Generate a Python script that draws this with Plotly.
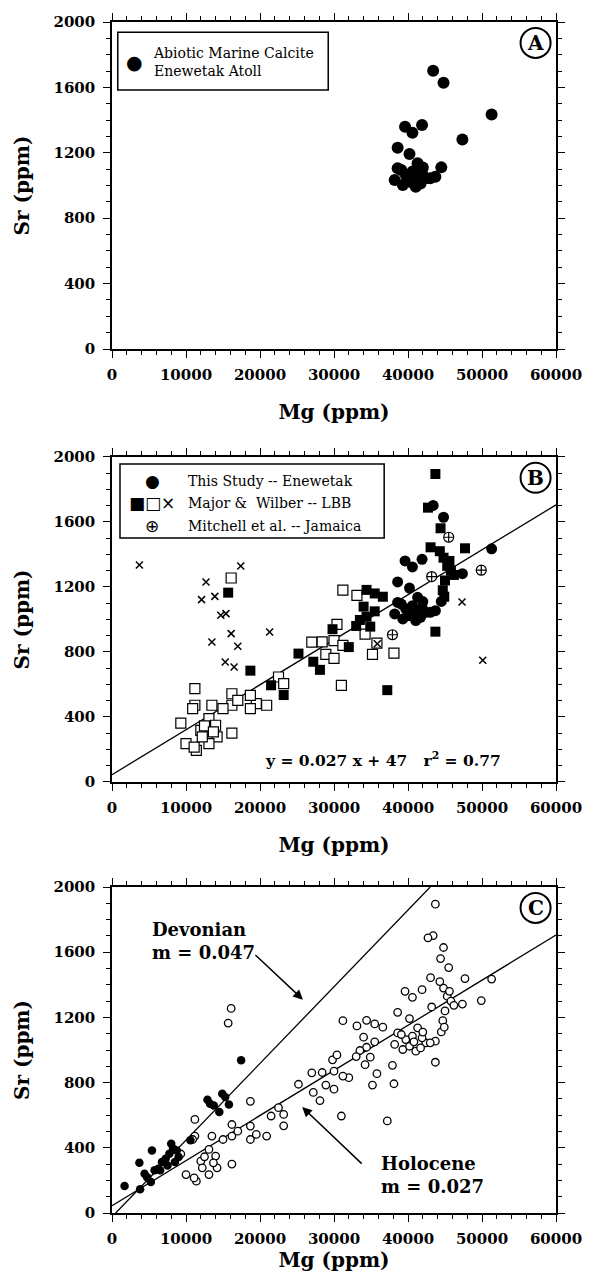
import plotly.graph_objects as go

# ---------------- data ----------------
# This study - Enewetak (abiotic marine calcite)
enewetak_mg = [43400, 44800, 51300, 47350, 41900, 39600, 40600, 38600, 40200, 44500,
               38600, 41300, 38200, 39300, 41050, 42400, 43700, 39700, 40600, 41900,
               39100, 40200, 41700, 43000, 40800, 42000]
enewetak_sr = [1702, 1629, 1435, 1282, 1370, 1360, 1323, 1231, 1193, 1111,
               1105, 1136, 1034, 1003, 993, 1044, 1054, 1064, 1085, 1075,
               1095, 1023, 1013, 1044, 1050, 1110]

# Major & Wilber - LBB (filled squares)
mwf_mg = [43700, 42700, 44400, 43050, 47700, 44800, 45300, 45800, 46200, 45000,
          44700, 44900, 43700, 37200, 15700, 18700, 21500, 23200, 25200, 27200,
          28100, 32000, 34400, 35500, 36600, 34000, 34400, 33500, 34900, 33000,
          35500, 29800, 44300, 45600]
mwf_sr = [1895, 1688, 1561, 1444, 1438, 1380, 1330, 1300, 1274, 1240,
          1180, 1140, 925, 565, 1165, 685, 595, 535, 790, 740,
          690, 830, 1182, 1160, 1140, 1079, 1017, 997, 956, 960,
          1050, 940, 1420, 1360]

# Major & Wilber - LBB (open squares)
mwo_mg = [16100, 31200, 33100, 30400, 30000, 28900, 27000, 28400, 30000, 31200,
          34200, 35200, 38100, 31000, 35800, 22500, 23200, 20900, 19500, 18700,
          18700, 16200, 16200, 16200, 17000, 15000, 13500, 11200, 11200, 10900,
          9300, 10000, 11400, 11100, 12000, 13100, 12500, 14000, 14200, 13100,
          12200, 13700]
mwo_sr = [1255, 1180, 1148, 970, 870, 785, 860, 862, 760, 840,
          910, 785, 793, 595, 855, 646, 605, 472, 482, 533,
          451, 543, 472, 300, 502, 451, 472, 574, 472, 451,
          362, 236, 195, 215, 318, 390, 345, 349, 277, 236,
          277, 308]

# Major & Wilber - LBB (crosses)
mwx_mg = [3700, 12700, 12100, 13900, 14700, 15400, 17400, 16100, 13500, 17000,
          15300, 16500, 21300, 35850, 47300, 50100]
mwx_sr = [1335, 1231, 1122, 1142, 1026, 1036, 1329, 913, 861, 835,
          738, 708, 923, 851, 1108, 749]

# Mitchell et al. - Jamaica
mit_mg = [45500, 49900, 43200, 37900]
mit_sr = [1506, 1303, 1264, 906]

# Devonian (panel C, filled)
dev_mg = [1700, 3700, 3800, 5400, 4400, 4750, 5250, 5750, 6250, 6750,
          7250, 7750, 8000, 8250, 8500, 8750, 9000, 7500, 6500, 10600,
          12900, 13250, 13750, 14500, 14900, 15300, 15800, 17450]
dev_sr = [165, 309, 145, 384, 241, 220, 190, 262, 272, 313,
          333, 364, 425, 395, 313, 384, 343, 292, 262, 446,
          695, 671, 660, 620, 732, 712, 665, 937]

# Fitted lines (end points)
holo_line_mg = [0, 60000]
holo_line_sr = [45, 1705]
dev_line_mg = [500, 43000]
dev_line_sr = [0, 2000]

x_ticks = [0, 10000, 20000, 30000, 40000, 50000, 60000]
y_ticks = [0, 400, 800, 1200, 1600, 2000]

# Holocene set for panel C = all modern data except crosses
holo_mg = enewetak_mg + mwf_mg + mwo_mg + mit_mg
holo_sr = enewetak_sr + mwf_sr + mwo_sr + mit_sr

# ---------------- figure ----------------
SERIF = "DejaVu Serif"
fig = go.Figure()

# Panel A
fig.add_trace(go.Scatter(x=enewetak_mg, y=enewetak_sr, mode="markers", xaxis="x", yaxis="y",
                         marker=dict(symbol="circle", size=12, color="black")))

# Panel B
fig.add_trace(go.Scatter(x=holo_line_mg, y=holo_line_sr, mode="lines", xaxis="x2", yaxis="y2",
                         line=dict(color="black", width=1.3)))
fig.add_trace(go.Scatter(x=mwo_mg, y=mwo_sr, mode="markers", xaxis="x2", yaxis="y2",
                         marker=dict(symbol="square", size=10, color="white",
                                     line=dict(color="black", width=1.2))))
fig.add_trace(go.Scatter(x=mwx_mg, y=mwx_sr, mode="markers", xaxis="x2", yaxis="y2",
                         marker=dict(symbol="x-thin-open", size=7, color="black",
                                     line=dict(color="black", width=1.5))))
fig.add_trace(go.Scatter(x=mwf_mg, y=mwf_sr, mode="markers", xaxis="x2", yaxis="y2",
                         marker=dict(symbol="square", size=10, color="black")))
fig.add_trace(go.Scatter(x=enewetak_mg, y=enewetak_sr, mode="markers", xaxis="x2", yaxis="y2",
                         marker=dict(symbol="circle", size=11, color="black")))
fig.add_trace(go.Scatter(x=mit_mg, y=mit_sr, mode="markers", xaxis="x2", yaxis="y2",
                         marker=dict(symbol="circle-cross", size=10, color="white",
                                     line=dict(color="black", width=1.2))))

# Panel C
fig.add_trace(go.Scatter(x=holo_line_mg, y=holo_line_sr, mode="lines", xaxis="x3", yaxis="y3",
                         line=dict(color="black", width=1.3)))
fig.add_trace(go.Scatter(x=dev_line_mg, y=dev_line_sr, mode="lines", xaxis="x3", yaxis="y3",
                         line=dict(color="black", width=1.3)))
fig.add_trace(go.Scatter(x=holo_mg, y=holo_sr, mode="markers", xaxis="x3", yaxis="y3",
                         marker=dict(symbol="circle", size=7.5, color="white",
                                     line=dict(color="black", width=1.3))))
fig.add_trace(go.Scatter(x=dev_mg, y=dev_sr, mode="markers", xaxis="x3", yaxis="y3",
                         marker=dict(symbol="circle", size=8.5, color="black")))

tickfont = dict(family=SERIF, size=15, color="black", weight="bold")
titlefont = dict(family=SERIF, size=20, color="black", weight="bold")


def xax(anchor, standoff):
    return dict(domain=[0, 1], anchor=anchor, range=[0, 60000], tickvals=x_ticks,
                tickformat="d", showline=True, linecolor="black", linewidth=1.5,
                mirror="allticks", ticks="outside", ticklen=7, tickwidth=1.3,
                tickcolor="black", showgrid=False, zeroline=False, ticklabelstandoff=4,
                minor=dict(dtick=2000, ticks="outside", ticklen=4, tickwidth=1,
                           tickcolor="black", showgrid=False),
                tickfont=tickfont,
                title=dict(text="Mg (ppm)", font=titlefont, standoff=standoff))


def yax(anchor, domain):
    return dict(domain=domain, anchor=anchor, range=[0, 2000], tickvals=y_ticks,
                tickformat="d", showline=True, linecolor="black", linewidth=1.5,
                mirror="allticks", ticks="outside", ticklen=7, tickwidth=1.3,
                tickcolor="black", showgrid=False, zeroline=False, ticklabelstandoff=5,
                minor=dict(dtick=100, ticks="outside", ticklen=4, tickwidth=1,
                           tickcolor="black", showgrid=False),
                tickfont=tickfont,
                title=dict(text="Sr (ppm)", font=titlefont, standoff=18))


fig.update_layout(
    width=594, height=1281, autosize=False,
    margin=dict(l=112, r=29, t=22, b=68),
    paper_bgcolor="white", plot_bgcolor="white",
    showlegend=False,
    xaxis=xax("y", 22), yaxis=yax("x", [0.7254, 1.0]),
    xaxis2=xax("y2", 22), yaxis2=yax("x2", [0.3619, 0.6348]),
    xaxis3=xax("y3", 2), yaxis3=yax("x3", [0.0, 0.2737]),
)

shapes = []
annotations = []

# panel letters in circles
for xr, yr, letter in [("x", "y", "A"), ("x2", "y2", "B"), ("x3", "y3", "C")]:
    shapes.append(dict(type="circle", xref=f"{xr} domain", yref=f"{yr} domain",
                       xsizemode="pixel", ysizemode="pixel", xanchor=0.954, yanchor=0.936,
                       x0=-15, x1=15, y0=-15, y1=15, line=dict(color="black", width=2),
                       fillcolor="white", layer="above"))
    annotations.append(dict(xref=f"{xr} domain", yref=f"{yr} domain", x=0.954, y=0.936,
                            text=letter, showarrow=False, xanchor="center", yanchor="middle",
                            font=dict(family=SERIF, size=20, color="black", weight="bold")))

# Panel A legend
shapes.append(dict(type="rect", xref="x domain", yref="y domain", x0=0.013, x1=0.487,
                   y0=0.792, y1=0.969, line=dict(color="black", width=1.5),
                   fillcolor="white", layer="above"))
legfont = dict(family=SERIF, size=14, color="black")
annotations.append(dict(xref="x domain", yref="y domain", x=0.051, y=0.878, text="●",
                        showarrow=False, xanchor="center", yanchor="middle",
                        font=dict(family="DejaVu Sans", size=19, color="black")))
annotations.append(dict(xref="x domain", yref="y domain", x=0.0885, y=0.878,
                        text="Abiotic Marine Calcite<br>Enewetak Atoll", showarrow=False,
                        xanchor="left", yanchor="middle", align="left", font=legfont))

# Panel B legend
shapes.append(dict(type="rect", xref="x2 domain", yref="y2 domain", x0=0.018, x1=0.613,
                   y0=0.751, y1=0.978, line=dict(color="black", width=1.5),
                   fillcolor="white", layer="above"))
legend_rows = [("●", "This Study -- Enewetak", 0.926),
               ("■□×", "Major &amp;  Wilber -- LBB", 0.858),
               ("⊕", "Mitchell et al. -- Jamaica", 0.788)]
for sym, label, yy in legend_rows:
    annotations.append(dict(xref="x2 domain", yref="y2 domain", x=0.091, y=yy, text=sym,
                            showarrow=False, xanchor="center", yanchor="middle",
                            font=dict(family="DejaVu Sans", size=17, color="black")))
    annotations.append(dict(xref="x2 domain", yref="y2 domain", x=0.166, y=yy, text=label,
                            showarrow=False, xanchor="left", yanchor="middle", font=legfont))

annotations.append(dict(xref="x2 domain", yref="y2 domain", x=0.61, y=0.068,
                        text="y = 0.027 x + 47\u00a0\u00a0\u00a0r<sup>2</sup> = 0.77",
                        showarrow=False, xanchor="center", yanchor="middle",
                        font=dict(family=SERIF, size=15.5, color="black", weight="bold")))

# Panel C labels
annotations.append(dict(xref="x3 domain", yref="y3 domain", x=0.086, y=0.833,
                        text="Devonian<br>m = 0.047", showarrow=False, xanchor="left",
                        yanchor="middle", align="left",
                        font=dict(family=SERIF, size=18, color="black", weight="bold")))
annotations.append(dict(xref="x3 domain", yref="y3 domain", x=0.602, y=0.117,
                        text="Holocene<br>m = 0.027", showarrow=False, xanchor="left",
                        yanchor="middle", align="left",
                        font=dict(family=SERIF, size=18, color="black", weight="bold")))
# arrows
annotations.append(dict(xref="x3", yref="y3", x=25800, y=1309, ax=-49, ay=-46, text="",
                        showarrow=True, arrowhead=2, arrowsize=1.3, arrowwidth=1.5,
                        arrowcolor="black"))
annotations.append(dict(xref="x3", yref="y3", x=25700, y=650, ax=61, ay=58, text="",
                        showarrow=True, arrowhead=2, arrowsize=1.3, arrowwidth=1.5,
                        arrowcolor="black"))

fig.update_layout(shapes=shapes, annotations=annotations)
fig.write_html("out.html")
